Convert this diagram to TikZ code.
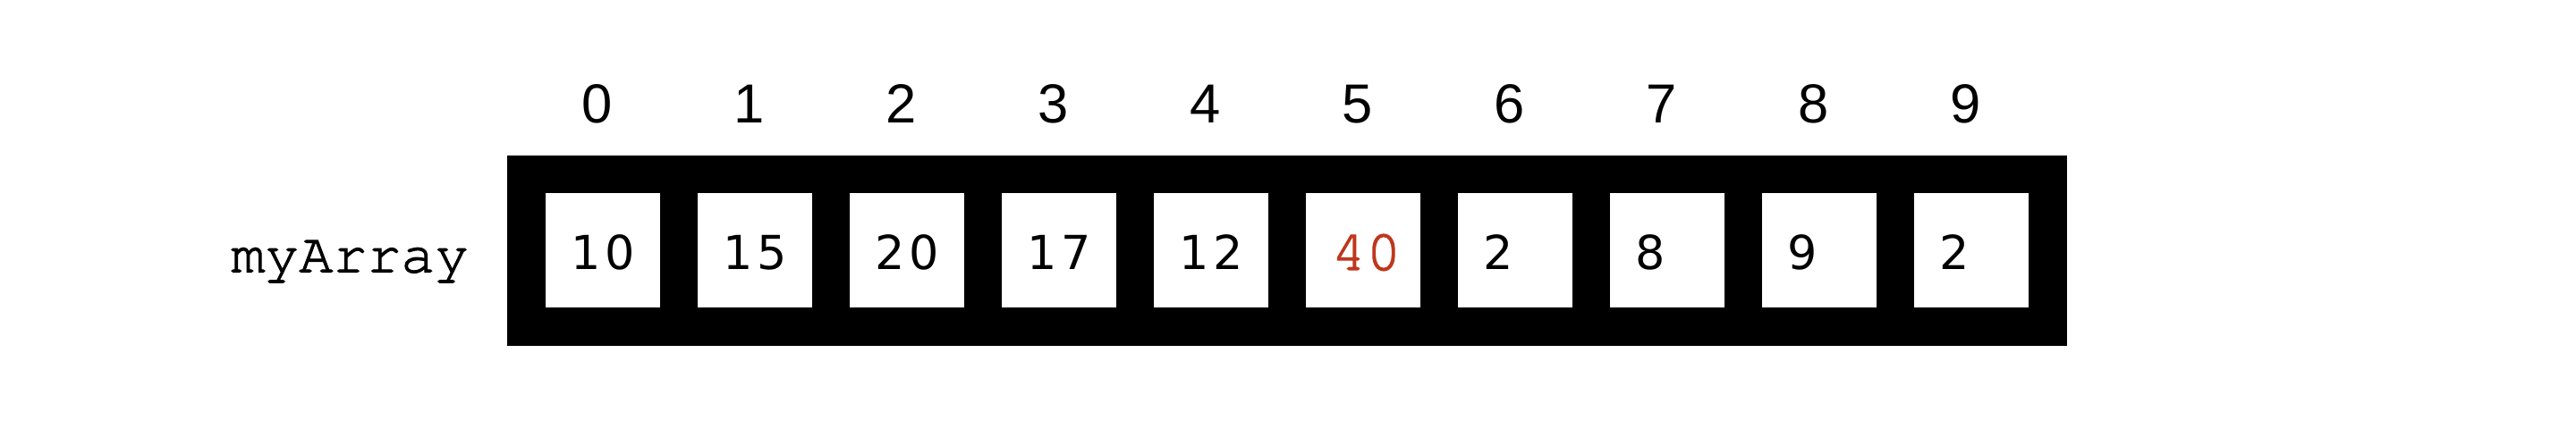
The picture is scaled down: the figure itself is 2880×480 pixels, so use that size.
\documentclass[tikz,border=0pt]{standalone}
\usepackage{fontspec}
\newfontfamily\idxfont{Liberation Sans}
\newfontfamily\valfont[LetterSpace=9]{DejaVu Sans}
\newfontfamily\codefont[FakeBold=1.8]{texgyrecursor-regular.otf}
\definecolor{hilite}{RGB}{190,56,30}
\begin{document}
\begin{tikzpicture}[x=0.01cm,y=-0.01cm,
  framebox/.style={fill=black,draw=none,inner sep=0pt,outer sep=0pt,minimum width=17.42cm,minimum height=2.125cm},
  cellbox/.style={fill=white,draw=none,inner sep=0pt,outer sep=0pt,minimum width=1.28cm,minimum height=1.28cm},
  idx/.style={font=\idxfont\fontsize{17.5}{20}\selectfont,anchor=base,inner sep=0pt},
  val/.style={font=\valfont\fontsize{14.9}{18}\selectfont,anchor=base west,inner sep=0pt},
  hot/.style={font=\codefont\fontsize{18.4}{22}\selectfont,text=hilite,anchor=base west,inner sep=0pt},
  namelabel/.style={font=\codefont\fontsize{18}{22}\selectfont,anchor=base east,inner sep=0pt}]
\fill[white] (0,0) rectangle (2880,480);
\useasboundingbox (0,0) rectangle (2880,480);
\node[framebox] (frame) at (1439,280.25) {};
\node[namelabel] (name) at (525,304.5) {myArray};
\foreach \i/\v in {0/10,1/15,2/20,3/17,4/12,5/40,6/2,7/8,8/9,9/2}{
  \pgfmathsetmacro{\cx}{674+170*\i}
  \pgfmathsetmacro{\lx}{610+170*\i+28}
  \pgfmathsetmacro{\ix}{668+170*\i}
  \node[cellbox] (c\i) at (\cx,280) {};
  \node[idx] (i\i) at (\ix,137.3) {\i};
  \ifnum\i=5
    \node[hot] (v\i) at (\lx,302) {\v};
  \else
    \node[val] (v\i) at (\lx,302) {\v};
  \fi
}
\end{tikzpicture}
\end{document}
